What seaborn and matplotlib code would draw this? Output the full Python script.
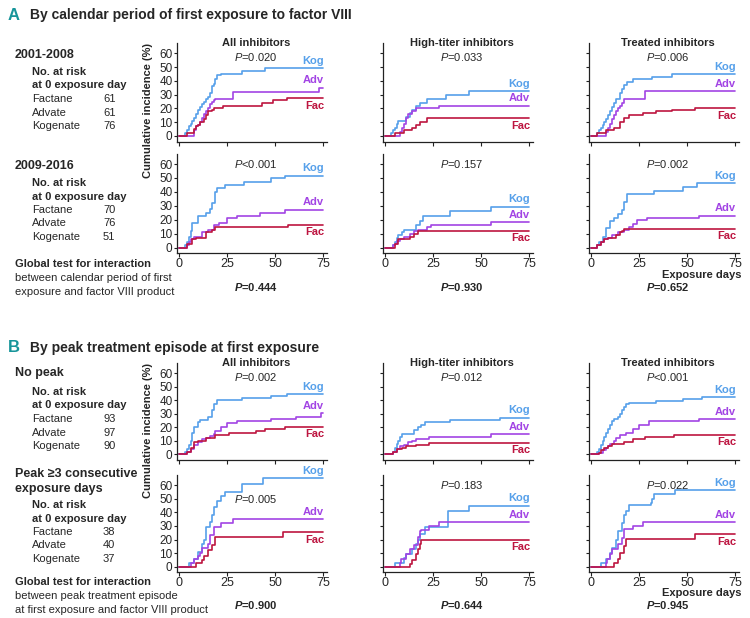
import pandas as pd
import matplotlib
matplotlib.use('Agg')
import matplotlib.pyplot as plt
import seaborn as sns

# ---- step points (exposure day, cumulative incidence %) ----
# A: calendar period 2001-2008
A1_ALL_KOG = [(0, 0), (3, 2), (4, 4), (5, 7), (6, 9), (7, 11), (8, 13), (9, 16), (10, 19), (11, 21), (12, 23),
              (13, 25), (14, 27), (15, 28), (16, 31), (17, 36), (18, 38), (19, 41), (20, 44), (22, 45), (33, 47), (45, 49)]
A1_ALL_ADV = [(0, 0), (8, 4), (9, 7), (10, 8), (11, 10), (12, 13), (13, 16), (14, 18), (15, 20), (16, 23),
              (17, 25), (18, 26), (19, 27), (28, 32), (73, 35)]
A1_ALL_FAC = [(0, 0), (4, 2), (8, 5), (9, 7), (10, 8), (11, 10), (13, 12), (14, 15), (15, 18), (17, 19),
              (18, 20), (23, 22), (43, 24), (49, 26), (56, 27.5)]
A1_HT_KOG = [(0, 0), (3, 2), (4, 4), (5, 6), (6, 9), (7, 11), (11, 14), (13, 17), (14, 19), (16, 22), (18, 24),
             (22, 27), (32, 30), (44, 32.5)]
A1_HT_ADV = [(0, 0), (8, 3), (9, 6), (10, 9), (11, 13), (12, 16), (14, 18), (16, 20), (28, 22)]
A1_HT_FAC = [(0, 0), (5, 2), (10, 4), (14, 6), (16, 8), (18, 10), (22, 12.8)]
A1_TR_KOG = [(0, 0), (3, 2), (4, 4), (5, 6), (6, 8), (7, 10), (8, 12), (9, 15), (10, 18), (11, 21), (12, 24),
             (13, 27), (15, 31), (16, 34), (17, 37), (19, 39), (22, 41), (32, 42.5), (42, 44.7)]
A1_TR_ADV = [(0, 0), (8, 3), (9, 6), (10, 9), (11, 12), (12, 15), (13, 18), (14, 20), (15, 22), (16, 24),
             (17, 26.5), (28, 32.4)]
A1_TR_FAC = [(0, 0), (3, 2), (8, 4), (12, 6), (15, 10), (17, 13), (20, 15), (27, 17), (34, 18), (42, 19), (54, 20)]

# A: calendar period 2009-2016
A2_ALL_KOG = [(0, 0), (3, 2), (4, 4), (5, 8), (6, 12), (7, 18), (10, 23), (14, 25), (16, 28), (17, 32), (19, 40),
              (20, 43), (24, 45), (34, 47), (48, 50), (55, 51.5)]
A2_ALL_ADV = [(0, 0), (4, 2), (5, 4), (6, 6), (8, 8), (12, 11), (15, 13), (18, 16), (21, 18), (25, 21.5),
              (30, 23), (42, 25), (55, 27)]
A2_ALL_FAC = [(0, 0), (4, 3), (7, 6), (9, 7), (14, 11), (17, 13), (19, 14.5), (57, 16.5)]
A2_HT_KOG = [(0, 0), (4, 2), (5, 4), (6, 7), (7, 9), (9, 11), (10, 13), (16, 16), (18, 19), (20, 22.5),
             (34, 26), (55, 29.4)]
A2_HT_ADV = [(0, 0), (4, 2), (5, 3), (6, 5), (8, 6), (10, 8), (13, 10), (15, 12), (17, 13), (22, 15),
             (24, 16.3), (55, 18.2)]
A2_HT_FAC = [(0, 0), (5, 3), (7, 6), (13, 8), (15, 10), (17, 12.2)]
A2_TR_KOG = [(0, 0), (3, 2), (4, 4), (6, 8), (8, 14), (10, 19), (12, 21), (14, 24), (16, 27), (17, 33),
             (19, 38.3), (33, 40.5), (48, 43.5), (55, 46.2)]
A2_TR_ADV = [(0, 0), (3, 2), (5, 4), (7, 6), (9, 7), (11, 9), (14, 11), (17, 13), (20, 15), (22, 17),
             (24, 20), (29, 21), (56, 23)]
A2_TR_FAC = [(0, 0), (3, 2), (5, 4), (7, 6), (9, 7), (13, 9), (15, 11), (16, 12), (17, 13.6)]

# B: no peak
B1_ALL_KOG = [(0, 0), (3, 2), (4, 4), (5, 7), (6, 10), (7, 16), (8, 20), (10, 24), (11, 25.4), (15, 28),
              (17, 33), (18, 37), (20, 40.2), (33, 42), (48, 43.5), (56, 44.7)]
B1_ALL_ADV = [(0, 0), (4, 2), (6, 4), (8, 7), (10, 9), (12, 11), (14, 12), (16, 13.5), (18, 15), (19, 17),
              (22, 20), (25, 23), (30, 25), (48, 26.5), (61, 28), (74, 30.4)]
B1_ALL_FAC = [(0, 0), (4, 2), (6, 5), (8, 9), (10, 10), (14, 12), (19, 14), (26, 16), (40, 17.5), (45, 19),
              (55, 20.5)]
B1_HT_KOG = [(0, 0), (4, 2), (5, 5), (6, 8), (7, 10), (8, 13), (9, 15), (15, 18), (17, 20), (19, 22),
             (21, 23.9), (34, 25.5), (60, 27.1)]
B1_HT_ADV = [(0, 0), (4, 2), (6, 4), (8, 6), (10, 7), (12, 9), (14, 10), (16, 11.5), (23, 13), (55, 15)]
B1_HT_FAC = [(0, 0), (4, 2), (6, 4), (9, 5), (11, 6), (16, 7), (23, 8.6)]
B1_TR_KOG = [(0, 0), (3, 2), (4, 4), (5, 7), (6, 10), (7, 13), (8, 16), (9, 19), (10, 22), (11, 25), (12, 26),
             (14, 28), (15, 30), (16, 33), (17, 35), (18, 37), (20, 37.8), (34, 39.5), (48, 41), (58, 42.2)]
B1_TR_ADV = [(0, 0), (4, 1), (6, 3), (8, 5), (9, 6), (10, 8), (12, 10), (13, 12), (15, 14), (18, 16),
             (22, 19), (25, 22), (30, 24.7), (56, 26.1)]
B1_TR_FAC = [(0, 0), (4, 1), (5, 3), (7, 5), (9, 6), (11, 8), (17, 9), (22, 11), (28, 12.5), (43, 14.3)]

# B: peak >=3 consecutive exposure days
B2_ALL_KOG = [(0, 0), (5, 3), (8, 6), (10, 11), (12, 17), (13, 20), (14, 29), (16, 33), (17, 38), (18, 44),
              (20, 48), (22, 52), (24, 55), (33, 61), (44, 65)]
B2_ALL_ADV = [(0, 0), (6, 3), (8, 6), (10, 8), (11, 10), (12, 14), (15, 17), (16, 23), (18, 29.4),
              (22, 32), (28, 35)]
B2_ALL_FAC = [(0, 0), (9, 3), (12, 5), (13, 8), (15, 12), (17, 16), (19, 22), (54, 25.5)]
B2_HT_KOG = [(0, 0), (5, 3), (10, 6.5), (11, 9.5), (14, 13), (16, 16.5), (17, 20), (18, 24), (21, 29),
             (33, 41), (44, 45)]
B2_HT_ADV = [(0, 0), (8, 3), (8.5, 6), (11, 9), (13, 13), (15, 16), (17, 22), (18, 26), (19, 27), (23, 30),
             (28, 32.6)]
B2_HT_FAC = [(0, 0), (13, 2), (14, 5), (16, 9), (17, 13), (18, 17), (19, 20)]
B2_TR_KOG = [(0, 0), (5, 3), (8, 6), (10, 10), (11, 14), (13, 20), (14, 26.5), (16, 32), (17, 38), (18, 41),
             (20, 45.4), (31, 47), (32, 50), (33, 53.5), (44, 56.4)]
B2_TR_ADV = [(0, 0), (8, 3), (8.5, 5.4), (10, 9), (11, 13), (14, 17), (16, 21), (17, 27.7), (22, 30),
             (27, 32.6)]
B2_TR_FAC = [(0, 0), (12, 3), (14, 6), (15, 10), (17, 15), (18, 20.1), (54, 23.8)]

PRODUCTS = ['Kog', 'Adv', 'Fac']
PRODUCT_NAMES = ['Factane', 'Advate', 'Kogenate']
OUTCOMES = ['All inhibitors', 'High-titer inhibitors', 'Treated inhibitors']

RISK_A1 = [61, 61, 76]
RISK_A2 = [70, 76, 51]
RISK_B1 = [93, 97, 90]
RISK_B2 = [38, 40, 37]

P_A1 = ['=0.020', '=0.033', '=0.006']
P_A2 = ['<0.001', '=0.157', '=0.002']
P_B1 = ['=0.002', '=0.012', '<0.001']
P_B2 = ['=0.005', '=0.183', '=0.022']
P_INTER_A = ['=0.444', '=0.930', '=0.652']
P_INTER_B = ['=0.900', '=0.644', '=0.945']

X_TICKS = [0, 25, 50, 75]
Y_TICKS = [0, 10, 20, 30, 40, 50, 60]

COLORS = {'Kog': '#56a0ea', 'Adv': '#a244e4', 'Fac': '#bd1540'}
TEAL = '#17959a'

sns.set_theme(style='ticks')
plt.rcParams['font.family'] = ['Liberation Sans', 'DejaVu Sans']
plt.rcParams['mathtext.fontset'] = 'custom'
plt.rcParams['mathtext.rm'] = 'Liberation Sans'
plt.rcParams['mathtext.it'] = 'Liberation Sans:italic'
plt.rcParams['mathtext.bf'] = 'Liberation Sans:italic:bold'

W, H = 750, 618
fig = plt.figure(figsize=(W / 100, H / 100), dpi=100)


def fx(px):
    return px / W


def fy(py):
    return 1 - py / H


# rows: (curve sets, zero pixel, px per %, p-value texts, p y position, titles?, x labels?)
rows = [
    ([(A1_ALL_KOG, A1_ALL_ADV, A1_ALL_FAC), (A1_HT_KOG, A1_HT_ADV, A1_HT_FAC), (A1_TR_KOG, A1_TR_ADV, A1_TR_FAC)],
     136.0, 1.38, P_A1, [57.5, 57.5, 57.5], True, False),
    ([(A2_ALL_KOG, A2_ALL_ADV, A2_ALL_FAC), (A2_HT_KOG, A2_HT_ADV, A2_HT_FAC), (A2_TR_KOG, A2_TR_ADV, A2_TR_FAC)],
     247.7, 1.395, P_A2, [60, 60, 60], False, True),
    ([(B1_ALL_KOG, B1_ALL_ADV, B1_ALL_FAC), (B1_HT_KOG, B1_HT_ADV, B1_HT_FAC), (B1_TR_KOG, B1_TR_ADV, B1_TR_FAC)],
     454.3, 1.35, P_B1, [57.5, 57.5, 57.5], True, False),
    ([(B2_ALL_KOG, B2_ALL_ADV, B2_ALL_FAC), (B2_HT_KOG, B2_HT_ADV, B2_HT_FAC), (B2_TR_KOG, B2_TR_ADV, B2_TR_FAC)],
     566.7, 1.36, P_B2, [50, 60, 60], False, True),
]

XLIM = (-0.8, 77.3)
YLIM = (-4, 67.5)
PX_DAY = 1.92

for curves_row, zero_px, px_pct, p_txt, p_y, show_title, show_xlab in rows:
    top = zero_px - YLIM[1] * px_pct
    bot = zero_px - YLIM[0] * px_pct
    for c, curves in enumerate(curves_row):
        left = 179 + XLIM[0] * PX_DAY + 206 * c
        ax = fig.add_axes([fx(left), fy(bot), (XLIM[1] - XLIM[0]) * PX_DAY / W, (bot - top) / H])

        recs = []
        for prod, pts in zip(PRODUCTS, curves):
            for d, v in pts + [(75, pts[-1][1])]:
                recs.append((prod, d, v))
        df = pd.DataFrame(recs, columns=['product', 'day', 'pct'])
        sns.lineplot(data=df, x='day', y='pct', hue='product', hue_order=PRODUCTS, palette=COLORS,
                     drawstyle='steps-post', estimator=None, legend=False, linewidth=1.2, ax=ax)

        for prod, pts, off in zip(PRODUCTS, curves, [5.5, 5.5, -5.5]):
            ax.text(75.6, pts[-1][1] + off, prod, ha='right', va='center', color=COLORS[prod],
                    fontsize=8, fontweight='bold', clip_on=False)

        ax.set_xlim(*XLIM)
        ax.set_ylim(*YLIM)
        ax.set_xticks(X_TICKS)
        ax.set_yticks(Y_TICKS)
        ax.set_xlabel('')
        ax.set_ylabel('')
        if c > 0:
            ax.set_yticklabels([])
        if not show_xlab:
            ax.set_xticklabels([])
        ax.tick_params(axis='y', direction='out', length=2.5, width=0.8, pad=1, labelsize=8.5, color='#222222')
        ax.tick_params(axis='x', direction='out', length=3, width=0.8, pad=0.5, labelsize=9, color='#222222')
        sns.despine(ax=ax)
        for s in ['left', 'bottom']:
            ax.spines[s].set_linewidth(0.9)
            ax.spines[s].set_color('#222222')

        if show_title:
            ax.text(40, 1.0, OUTCOMES[c], transform=ax.get_xaxis_transform(), ha='center', va='center',
                    fontsize=8, fontweight='bold')
        ax.text(40, p_y[c], r'$\mathit{P}$' + p_txt[c], ha='center', va='center', fontsize=8)

# section headers
for y, letter, title in [(15, 'A', 'By calendar period of first exposure to factor VIII'),
                         (348, 'B', 'By peak treatment episode at first exposure')]:
    fig.text(fx(8), fy(y), letter, color=TEAL, fontsize=12, fontweight='bold', va='center')
    fig.text(fx(30), fy(y), title, fontsize=10, fontweight='bold', va='center')

# y labels
for y in [43, 363]:
    fig.text(fx(148), fy(y), 'Cumulative incidence (%)', rotation=90, ha='center', va='top',
             fontsize=8, fontweight='bold')

# left-hand risk tables
blocks = [
    (['2001-2008'], [55], 72, RISK_A1),
    (['2009-2016'], [166], 183, RISK_A2),
    (['No peak'], [373], 392, RISK_B1),
    (['Peak \u22653 consecutive', 'exposure days'], [474, 489], 505, RISK_B2),
]
for heads, head_y, risk_y, risk in blocks:
    for h, hy in zip(heads, head_y):
        fig.text(fx(15), fy(hy), h, fontsize=9, fontweight='bold', va='center')
    fig.text(fx(32), fy(risk_y), 'No. at risk', fontsize=8, fontweight='bold', va='center')
    fig.text(fx(32), fy(risk_y + 13.5), 'at 0 exposure day', fontsize=8, fontweight='bold', va='center')
    for i, (name, n) in enumerate(zip(PRODUCT_NAMES, risk)):
        yy = risk_y + 27 + 13.5 * i
        fig.text(fx(32), fy(yy), name, fontsize=8, va='center')
        fig.text(fx(103), fy(yy), str(n), fontsize=8, va='center')

# global interaction test
for y0, lines, p_vals in [(264, ['between calendar period of first', 'exposure and factor VIII product'], P_INTER_A),
                          (582, ['between peak treatment episode', 'at first exposure and factor VIII product'], P_INTER_B)]:
    fig.text(fx(15), fy(y0), 'Global test for interaction', fontsize=8, fontweight='bold', va='center')
    for i, line in enumerate(lines):
        fig.text(fx(15), fy(y0 + 14 * (i + 1)), line, fontsize=8, va='center')
    for c, pv in enumerate(p_vals):
        fig.text(fx(179 + 40 * PX_DAY + 206 * c), fy(y0 + 23), r'$\mathbf{P}$' + pv, ha='center', va='center',
                 fontsize=8, fontweight='bold')
    fig.text(fx(741), fy(y0 + 11), 'Exposure days', ha='right', va='center', fontsize=8, fontweight='bold')

fig.savefig('out.png', dpi=100)
